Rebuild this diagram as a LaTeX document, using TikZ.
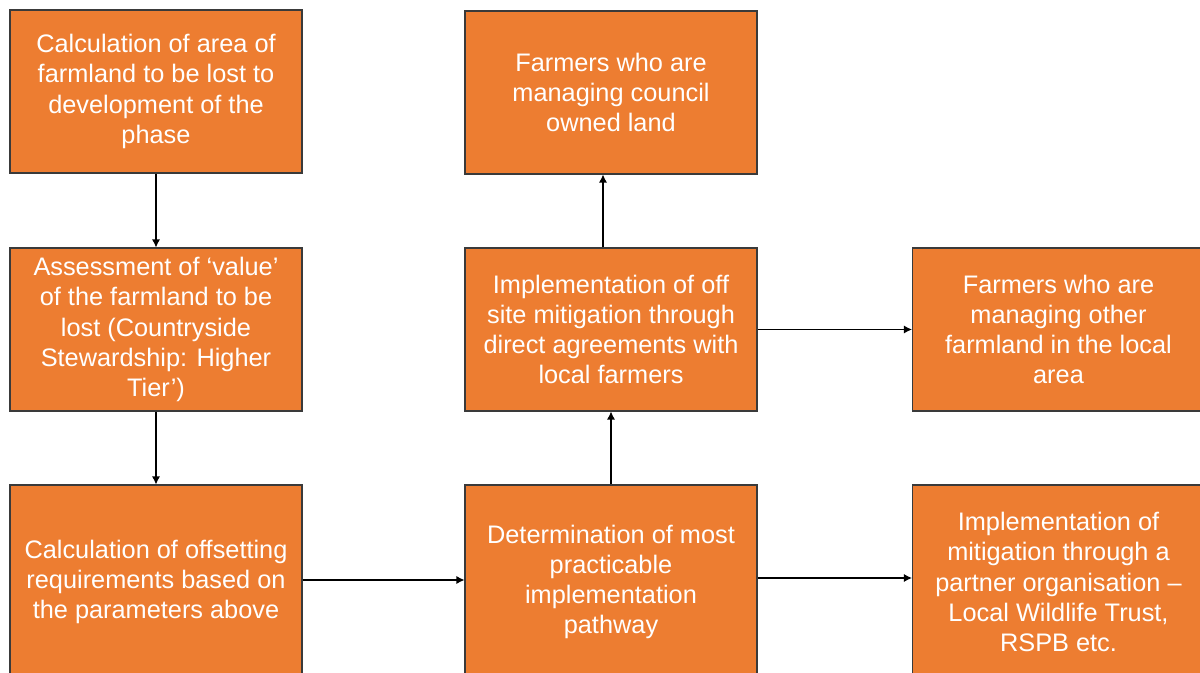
\documentclass[tikz,border=0pt]{standalone}
\usepackage{fontspec}
\setmainfont{Liberation Sans}
\usetikzlibrary{arrows.meta}
\definecolor{boxorange}{HTML}{ED7D31}
\definecolor{boxline}{HTML}{3A3A3A}
\tikzset{
  stepbox/.style={rectangle, fill=boxorange, draw=boxline, line width=0.8pt,
    minimum width=219pt, minimum height=122.25pt, inner sep=0pt,
    align=center, text=white, font=\fontsize{19}{22.6}\selectfont},
  tallbox/.style={stepbox, minimum height=145.5pt},
  arr/.style={draw=black, line width=0.85pt, -{Latex[length=6pt,width=6pt]}}
}
\begin{document}
\begin{tikzpicture}[x=0.75pt,y=-0.75pt]
\useasboundingbox (0,0) rectangle (1200,673);
\fill[white] (0,0) rectangle (1200,673);
\clip (0,0) rectangle (1200,673);
\node[stepbox] (b1) at (156,91.5) {Calculation of area of\\farmland to be lost to\\development of the\\phase};
\node[stepbox] (b2) at (156,329.5) {Assessment of ‘value’\\of the farmland to be\\lost (Countryside\\Stewardship: Higher\\Tier’)};
\node[tallbox] (b3) at (156,582) {Calculation of offsetting\\requirements based on\\the parameters above};
\node[tallbox] (b4) at (611,582) {Determination of most\\practicable\\implementation\\pathway};
\node[stepbox] (b5) at (611,329.5) {Implementation of off\\site mitigation through\\direct agreements with\\local farmers};
\node[stepbox] (b6) at (611,92.5) {Farmers who are\\managing council\\owned land};
\node[stepbox] (b7) at (1058.5,329.5) {Farmers who are\\managing other\\farmland in the local\\area};
\node[tallbox] (b8) at (1058.5,582) {Implementation of\\mitigation through a\\partner organisation –\\Local Wildlife Trust,\\RSPB etc.};
\draw[arr] (b1.south) -- (b2.north);
\draw[arr] (b2.south) -- (b3.north);
\draw[arr] ([yshift=1.5pt]b3.east) -- ([yshift=1.5pt]b4.west);
\draw[arr] (b4.north) -- (b5.south);
\draw[arr] ([xshift=-6pt]b5.north) -- ([xshift=-6pt]b6.south);
\draw[arr] (b5.east) -- (b7.west);
\draw[arr] ([yshift=3pt]b4.east) -- ([yshift=3pt]b8.west);
\end{tikzpicture}
\end{document}
